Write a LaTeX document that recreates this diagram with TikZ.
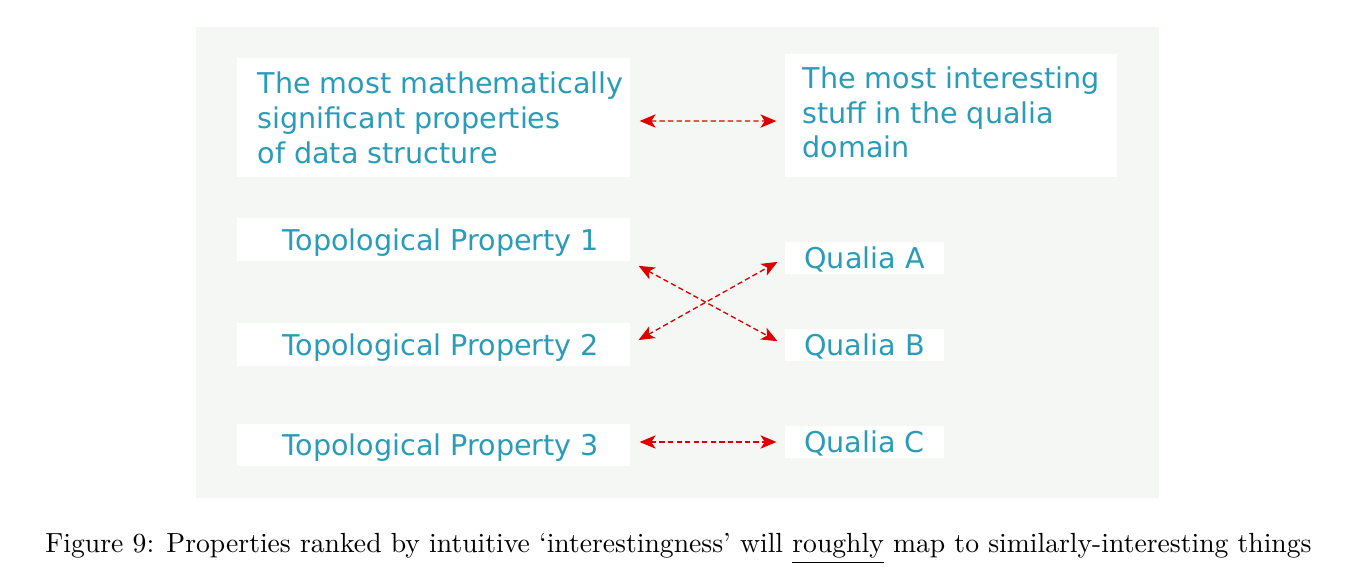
\documentclass[tikz,border=0pt]{standalone}
\usepackage{fontspec}
\newfontfamily\boxfont{DejaVu Sans}
\usetikzlibrary{arrows.meta,calc}
\definecolor{panelgray}{RGB}{245,247,245}
\definecolor{boxteal}{RGB}{42,156,184}
\definecolor{arrowred}{RGB}{222,0,0}
\begin{document}
\begin{tikzpicture}[x=0.375pt,y=-0.375pt,
            wbox/.style={fill=white,text=boxteal,inner sep=0pt,
              font=\boxfont\fontsize{10.73}{13.1}\selectfont},
            leftbox/.style={wbox,minimum width=147.4pt},
            tpbox/.style={leftbox,minimum height=16.1pt,text depth=0pt},
            qbox/.style={wbox,minimum width=59.6pt,minimum height=12pt,text depth=0pt},
            twoway/.style={{Stealth[length=6pt,width=5pt,inset=1.6pt]}-{Stealth[length=6pt,width=5pt,inset=1.6pt]},
              arrowred,line width=0.5pt,dash pattern=on 2pt off 1.2pt,
              shorten <=3.4pt,shorten >=3pt}]
            \useasboundingbox (0,0) rectangle (1356,576);
            \fill[panelgray] (196,27) rectangle (1159,498);

            \node[leftbox,minimum height=44.6pt,align=left] (mathbox) at (433.5,117.5)
              {\hspace{5.3pt}The most mathematically\\\hspace{5.3pt}significant properties\\\hspace{5.3pt}of data structure};
            \node[wbox,minimum width=124.5pt,minimum height=46.1pt,text depth=2.5pt,align=left] (qualebox) at (951,115.5)
              {The most interesting\\stuff in the qualia\\domain};

            \node[tpbox] (tp1) at (433.5,239.5) {\hspace{5.6pt}Topological Property 1};
            \node[tpbox] (tp2) at (433.5,344.5) {\hspace{5.6pt}Topological Property 2};
            \node[tpbox] (tp3) at (433.5,445) {\hspace{5.6pt}Topological Property 3};

            \node[qbox] (qa) at (864.5,258) {Qualia A};
            \node[qbox] (qb) at (864.5,345) {Qualia B};
            \node[qbox] (qc) at (864.5,442) {Qualia C};

            \draw[twoway] ([yshift=-1.3pt]mathbox.east) -- ([yshift=-2.1pt]qualebox.west);
            \draw[twoway] (tp1.south east) -- (qb.west);
            \draw[twoway] (tp2.east) -- (qa.west);
            \draw[twoway] (tp3.east |- qc.west) -- (qc.west);

            \node[anchor=base,inner sep=0pt,font=\fontsize{10.37}{12.4}\selectfont] (caption) at (678.5,553)
              {Figure 9: Properties ranked by intuitive `interestingness' will \underline{roughly} map to similarly-interesting things};
          \end{tikzpicture}
\end{document}
